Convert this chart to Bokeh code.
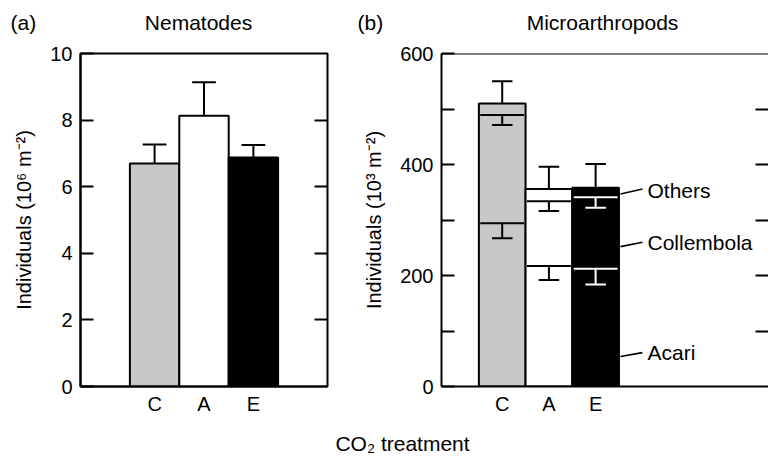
from bokeh.plotting import figure
from bokeh.layouts import column, row
from bokeh.models import Range1d, FixedTicker, LinearAxis, Span
from bokeh.embed import file_html
from bokeh.resources import INLINE
from bokeh.core.properties import value

# ---------------- data ----------------
treatments = ["C", "A", "E"]

# (a) Nematodes, 10^6 individuals m^-2
nematodes = [6.70, 8.13, 6.88]
nematodes_se = [0.57, 1.01, 0.37]

# (b) Microarthropods, 10^3 individuals m^-2 (stacked)
acari = [294, 217, 212]
collembola = [195, 117, 129]
others = [21, 22, 17]
acari_se = [27, 25, 28]
collembola_se = [18, 18, 19]
total_se = [40, 40, 43]

nem_ticks = [0, 2, 4, 6, 8, 10]
micro_labelled = [0, 200, 400, 600]
micro_unlabelled = [100, 300, 500]
group_labels = ["Others", "Collembola", "Acari"]
panel_tags = ["(a)", "(b)"]
panel_titles = ["Nematodes", "Microarthropods"]
x_title = "CO\u2082 treatment"

# ---------------- style ----------------
FONT = "Liberation Sans"
fills = ["#c8c8c8", "white", "black"]
inner = ["black", "black", "white"]
LW = 2
TICK = 13

xs = list(range(len(treatments)))


def style_axes(p):
    p.xgrid.visible = False
    p.ygrid.visible = False
    for ax in p.xaxis + p.yaxis:
        ax.major_label_text_font = FONT
        ax.major_label_text_font_size = "20px"
        ax.major_label_text_color = "black"
        ax.axis_label_text_font = FONT
        ax.axis_label_text_font_size = "20px"
        ax.axis_label_text_font_style = "normal"
        ax.axis_label_text_color = "black"
        ax.axis_line_color = "black"
        ax.axis_line_width = LW
        ax.major_tick_line_color = "black"
        ax.major_tick_line_width = LW
        ax.minor_tick_line_color = "black"
        ax.minor_tick_line_width = LW
        ax.minor_tick_in = 0
        ax.minor_tick_out = 0


def tick_only_axis(minor_ticks, line_color):
    # axis carrying only (unlabelled) inward tick marks
    return LinearAxis(ticker=FixedTicker(ticks=[], minor_ticks=minor_ticks),
                      axis_line_color=line_color, axis_line_width=LW,
                      major_tick_in=0, major_tick_out=0,
                      minor_tick_in=TICK, minor_tick_out=0,
                      minor_tick_line_color="black", minor_tick_line_width=LW,
                      major_label_standoff=0)


# ---------------- top strip with panel titles ----------------
p0 = figure(width=771, height=40, x_range=Range1d(0, 771), y_range=Range1d(0, 40),
            x_axis_type=None, y_axis_type=None, min_border=0,
            outline_line_color=None, toolbar_location=None, output_backend="svg")
p0.xgrid.visible = False
p0.ygrid.visible = False
p0.text(x=[10, 357], y=[18, 18], text=panel_tags, text_font=value(FONT),
        text_font_size="21px", text_align="left", text_baseline="middle",
        text_color="black")
p0.text(x=[198, 602], y=[18, 18], text=panel_titles, text_font=value(FONT),
        text_font_size="21px", text_align="center", text_baseline="middle",
        text_color="black")

# ---------------- panel (a) ----------------
p1 = figure(frame_width=247, frame_height=333, min_border_left=80, min_border_right=14,
            min_border_top=13, min_border_bottom=39,
            x_range=Range1d(-1.5, 3.5), y_range=Range1d(0, 10),
            toolbar_location=None, output_backend="svg",
            outline_line_color="black", outline_line_width=LW)
style_axes(p1)
ya = p1.yaxis[0]
ya.ticker = FixedTicker(ticks=nem_ticks)
ya.major_tick_in = TICK
ya.major_tick_out = 0
ya.major_label_standoff = 8
ya.axis_label = "Individuals (10\u2076 m\u207b\u00b2)"
ya.axis_label_standoff = 12
xa = p1.xaxis[0]
xa.ticker = FixedTicker(ticks=xs)
xa.major_label_overrides = {i: t for i, t in zip(xs, treatments)}
xa.major_tick_in = 0
xa.major_tick_out = 0
xa.major_label_standoff = 6
p1.add_layout(tick_only_axis(nem_ticks[1:-1], None), "right")

p1.vbar(x=xs, width=1, bottom=0, top=nematodes, fill_color=fills,
        line_color="black", line_width=LW)
nem_hi = [v + s for v, s in zip(nematodes, nematodes_se)]
p1.segment(x0=xs, y0=nematodes, x1=xs, y1=nem_hi, line_color="black", line_width=LW)
p1.segment(x0=[x - 0.24 for x in xs], y0=nem_hi, x1=[x + 0.24 for x in xs], y1=nem_hi,
           line_color="black", line_width=LW)

# ---------------- panel (b) ----------------
p2 = figure(frame_width=327, frame_height=333, min_border_left=100, min_border_right=0,
            min_border_top=13, min_border_bottom=39,
            x_range=Range1d(-1.3, -1.3 + 327 / 46.7), y_range=Range1d(0, 600),
            toolbar_location=None, output_backend="svg",
            outline_line_color=None)
style_axes(p2)
yb = p2.yaxis[0]
yb.ticker = FixedTicker(ticks=micro_labelled, minor_ticks=micro_unlabelled)
yb.major_tick_in = TICK
yb.major_tick_out = 0
yb.minor_tick_in = TICK
yb.minor_tick_out = 0
yb.major_label_standoff = 8
yb.axis_label = "Individuals (10\u00b3 m\u207b\u00b2)"
yb.axis_label_standoff = 12
xb = p2.xaxis[0]
xb.ticker = FixedTicker(ticks=xs)
xb.major_label_overrides = {i: t for i, t in zip(xs, treatments)}
xb.major_tick_in = 0
xb.major_tick_out = 0
xb.major_label_standoff = 6
p2.add_layout(tick_only_axis(micro_labelled[1:-1] + micro_unlabelled, None), "right")
p2.add_layout(Span(location=micro_labelled[-1], dimension="width",
                   line_color="black", line_width=LW))

cum_coll = [a + c for a, c in zip(acari, collembola)]
total = [cc + o for cc, o in zip(cum_coll, others)]

p2.vbar(x=xs, width=1, bottom=0, top=total, fill_color=fills,
        line_color="black", line_width=LW)
for level in (acari, cum_coll):
    p2.segment(x0=[x - 0.47 for x in xs], y0=level, x1=[x + 0.47 for x in xs], y1=level,
               line_color=inner, line_width=LW)

acari_lo = [a - s for a, s in zip(acari, acari_se)]
coll_lo = [c - s for c, s in zip(cum_coll, collembola_se)]
tot_hi = [t + s for t, s in zip(total, total_se)]
for y_from, y_to, col in ((acari, acari_lo, inner), (cum_coll, coll_lo, inner),
                          (total, tot_hi, ["black"] * 3)):
    p2.segment(x0=xs, y0=y_from, x1=xs, y1=y_to, line_color=col, line_width=LW)
    p2.segment(x0=[x - 0.22 for x in xs], y0=y_to, x1=[x + 0.22 for x in xs], y1=y_to,
               line_color=col, line_width=LW)

# group labels with leader lines (annotation positions)
lead_y0 = [347, 252, 54]
lead_y1 = [356, 260, 61]
text_y = [354, 260, 62]
p2.segment(x0=[2.533] * 3, y0=lead_y0, x1=[3.004] * 3, y1=lead_y1,
           line_color="black", line_width=1.6)
p2.text(x=[3.111] * 3, y=text_y, text=group_labels, text_font=value(FONT),
        text_font_size="21px", text_align="left", text_baseline="middle",
        text_color="black")

# ---------------- shared x label ----------------
p3 = figure(width=771, height=33, x_range=Range1d(0, 771), y_range=Range1d(0, 33),
            x_axis_type=None, y_axis_type=None, min_border=0,
            outline_line_color=None, toolbar_location=None, output_backend="svg")
p3.xgrid.visible = False
p3.ygrid.visible = False
p3.text(x=[402], y=[15], text=[x_title], text_font=value(FONT),
        text_font_size="21px", text_align="center", text_baseline="middle",
        text_color="black")

layout = column(p0, row(p1, p2), p3)
open("out.html", "w").write(file_html(layout, INLINE, "CO2 treatment"))
